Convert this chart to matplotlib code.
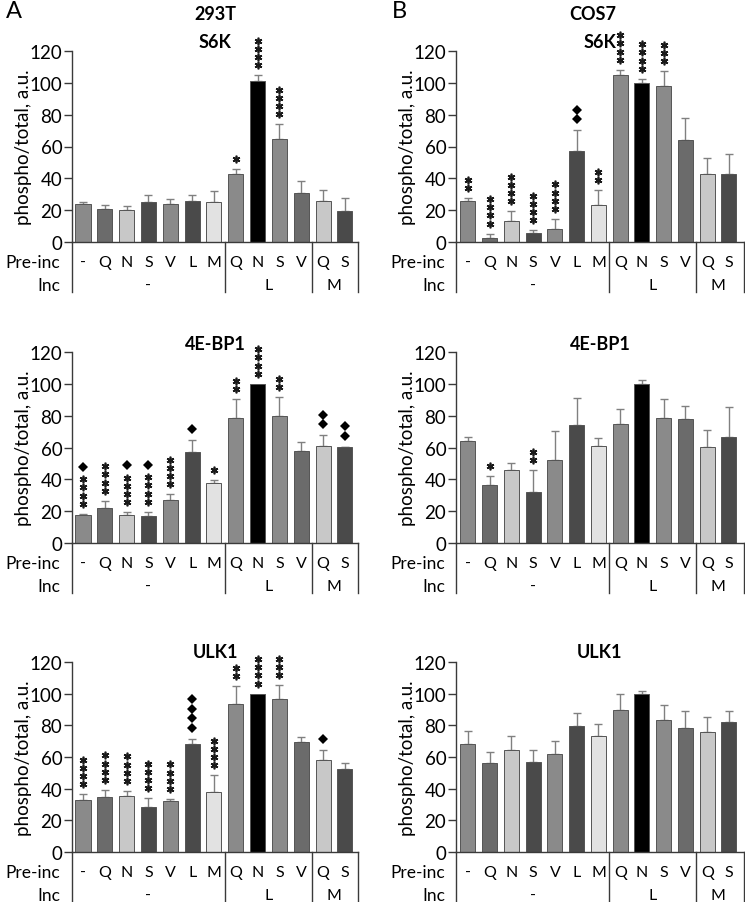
import matplotlib
matplotlib.use('Agg')
import matplotlib.pyplot as plt
import matplotlib.transforms as mtransforms
from matplotlib.lines import Line2D
import numpy as np

plt.rcParams['font.family'] = ['Lato', 'DejaVu Sans']

# ---------------- data ----------------
pre_inc = ['-', 'Q', 'N', 'S', 'V', 'L', 'M', 'Q', 'N', 'S', 'V', 'Q', 'S']
inc_labels = ['-', 'L', 'M']
inc_sizes = [7, 4, 2]
bar_colors = ['#8a8a8a', '#6b6b6b', '#c8c8c8', '#4a4a4a', '#8a8a8a', '#4a4a4a', '#e2e2e2',
              '#8a8a8a', '#000000', '#8a8a8a', '#6b6b6b', '#c8c8c8', '#4a4a4a']

# 293T
s6k_293_mean = [23.7, 20.7, 20.1, 25.1, 23.7, 26.0, 25.1, 42.9, 100.9, 64.5, 30.8, 25.8, 19.7]
s6k_293_err = [1.5, 2.3, 2.5, 4.2, 3.5, 3.7, 6.7, 3.2, 3.8, 9.4, 7.3, 6.7, 8.2]
s6k_293_stars = [0, 0, 0, 0, 0, 0, 0, 1, 4, 4, 0, 0, 0]
s6k_293_diam = [0] * 13

bp1_293_mean = [17.3, 21.9, 17.9, 17.0, 27.2, 57.3, 37.7, 78.5, 100.0, 79.8, 58.1, 60.8, 60.2]
bp1_293_err = [1.0, 4.6, 1.5, 2.6, 3.5, 7.3, 1.7, 12.0, 0.0, 11.8, 5.1, 7.0, 0.4]
bp1_293_stars = [4, 4, 4, 4, 4, 0, 1, 2, 4, 2, 0, 0, 0]
bp1_293_diam = [1, 0, 1, 1, 0, 1, 0, 0, 0, 0, 0, 2, 2]

ulk_293_mean = [32.8, 34.7, 35.6, 28.4, 32.0, 68.0, 37.9, 93.5, 100.0, 96.6, 69.7, 58.3, 52.4]
ulk_293_err = [3.6, 4.5, 2.9, 5.5, 1.5, 3.6, 10.5, 11.3, 0.0, 8.9, 2.9, 6.1, 3.8]
ulk_293_stars = [4, 4, 4, 4, 4, 0, 4, 2, 4, 3, 0, 0, 0]
ulk_293_diam = [0, 0, 0, 0, 0, 4, 0, 0, 0, 0, 0, 1, 0]

# COS7
s6k_cos_mean = [25.9, 2.5, 13.5, 5.5, 8.4, 57.0, 23.2, 105.0, 100.2, 97.7, 63.8, 42.9, 42.7]
s6k_cos_err = [1.5, 2.8, 5.7, 1.9, 6.1, 13.1, 9.6, 3.2, 2.3, 9.5, 14.3, 9.9, 12.9]
s6k_cos_stars = [2, 4, 4, 4, 4, 0, 2, 4, 4, 3, 0, 0, 0]
s6k_cos_diam = [0, 0, 0, 0, 0, 2, 0, 0, 0, 0, 0, 0, 0]

bp1_cos_mean = [64.2, 36.4, 46.1, 31.8, 52.2, 74.1, 61.0, 74.7, 100.0, 78.3, 77.7, 60.6, 66.9]
bp1_cos_err = [2.3, 5.7, 4.0, 13.9, 17.9, 16.8, 4.7, 9.7, 2.5, 12.4, 8.2, 10.1, 18.8]
bp1_cos_stars = [0, 1, 0, 2, 0, 0, 0, 0, 0, 0, 0, 0, 0]
bp1_cos_diam = [0] * 13

ulk_cos_mean = [68.4, 56.4, 64.2, 56.8, 61.9, 79.4, 73.3, 89.7, 100.0, 83.4, 78.3, 75.8, 82.3]
ulk_cos_err = [8.0, 6.5, 8.8, 7.4, 8.0, 8.4, 7.3, 10.1, 1.5, 9.2, 11.0, 9.7, 6.5]
ulk_cos_stars = [0] * 13
ulk_cos_diam = [0] * 13

yticks = [0, 20, 40, 60, 80, 100, 120]

# ---------------- figure ----------------
W, H = 745, 903
fig = plt.figure(figsize=(W / 100, H / 100), dpi=100)

LINE = '#3a3a3a'
TICK_FS = 13.5
TAB_FS = 11.5
ROWLAB_FS = 12.5
YLAB_FS = 13.5
TITLE_FS = 13


def add_ax(left, right, y0, ytop):
    return fig.add_axes([left / W, 1 - y0 / H, (right - left) / W, (y0 - ytop) / H])


def draw_panel(ax, means, errs, stars, diams, xlim, hpx, lab_dx):
    means = np.array(means)
    errs = np.array(errs)
    x = np.arange(len(pre_inc))
    ax.bar(x, means, width=0.69, color=bar_colors, edgecolor='#555555', linewidth=0.7, zorder=2)
    m = errs > 0
    ax.errorbar(x[m], means[m], yerr=[np.zeros(m.sum()), errs[m]], fmt='none',
                ecolor='#808080', elinewidth=1.0, capsize=3, capthick=1.0, zorder=1)
    ax.set_xlim(*xlim)
    ax.set_ylim(0, 120)
    ax.set_yticks(yticks)
    ax.set_xticks([])
    ax.tick_params(axis='y', length=6, width=1, color=LINE, labelsize=TICK_FS, pad=1)
    for s in ['top', 'right']:
        ax.spines[s].set_visible(False)
    for s in ['left', 'bottom']:
        ax.spines[s].set_color(LINE)
        ax.spines[s].set_linewidth(1.0)

    # significance marks
    for i in range(len(x)):
        top = means[i] + errs[i]
        off = 10
        for _ in range(stars[i]):
            tr = mtransforms.offset_copy(ax.transData, fig=fig, x=0, y=off, units='dots')
            ax.plot([x[i]], [top], marker=(6, 2, 0), ms=5.5, mew=1.2, color='#1a1a1a',
                    transform=tr, clip_on=False, zorder=3)
            off += 8.2
        if diams[i]:
            if stars[i]:
                off += 4
            else:
                off += 1
            for _ in range(diams[i]):
                tr = mtransforms.offset_copy(ax.transData, fig=fig, x=0, y=off, units='dots')
                ax.plot([x[i]], [top], marker='D', ms=5, mew=0, color='black',
                        transform=tr, clip_on=False, zorder=3)
                off += 9.5

    # table below
    trb = mtransforms.blended_transform_factory(ax.transData, ax.transAxes)
    ybot = -50 / hpx
    bounds = [xlim[0]]
    c = 0
    for n in inc_sizes:
        c += n
        bounds.append(c - 0.5)
    bounds[-1] = xlim[1]
    for b in bounds:
        ax.add_line(Line2D([b, b], [0, ybot], transform=trb, color=LINE, lw=1.0, clip_on=False))
    for i, lab in enumerate(pre_inc):
        ax.annotate(lab, xy=(x[i], 0), xycoords='data', xytext=(0, -20 * 0.72),
                    textcoords='offset points', ha='center', va='center', fontsize=TAB_FS)
    c = 0
    for lab, n in zip(inc_labels, inc_sizes):
        ax.annotate(lab, xy=(c + (n - 1) / 2, 0), xycoords='data', xytext=(0, -43 * 0.72),
                    textcoords='offset points', ha='center', va='center', fontsize=TAB_FS)
        c += n
    ax.annotate('Pre-inc', xy=(0, 0), xycoords='axes fraction', xytext=(lab_dx * 0.72, -20 * 0.72),
                textcoords='offset points', ha='right', va='center', fontsize=ROWLAB_FS)
    ax.annotate('Inc', xy=(0, 0), xycoords='axes fraction', xytext=(lab_dx * 0.72, -43 * 0.72),
                textcoords='offset points', ha='right', va='center', fontsize=ROWLAB_FS)


rows = [(243, 52), (544, 353), (853, 663)]
colA = (72, 358, (-0.504, 12.6), -12)
colB = (456, 744, (-0.55, 12.69), -11)

panels_A = [(s6k_293_mean, s6k_293_err, s6k_293_stars, s6k_293_diam, 'S6K'),
            (bp1_293_mean, bp1_293_err, bp1_293_stars, bp1_293_diam, '4E-BP1'),
            (ulk_293_mean, ulk_293_err, ulk_293_stars, ulk_293_diam, 'ULK1')]
panels_B = [(s6k_cos_mean, s6k_cos_err, s6k_cos_stars, s6k_cos_diam, 'S6K'),
            (bp1_cos_mean, bp1_cos_err, bp1_cos_stars, bp1_cos_diam, '4E-BP1'),
            (ulk_cos_mean, ulk_cos_err, ulk_cos_stars, ulk_cos_diam, 'ULK1')]

title_y = [43, 345, 653]
for col, panels, ylab_x in [(colA, panels_A, 24), (colB, panels_B, 407)]:
    left, right, xlim, dx = col
    for (y0, yt), (mn, er, st, di, ttl), ty in zip(rows, panels, title_y):
        ax = add_ax(left, right, y0, yt)
        draw_panel(ax, mn, er, st, di, xlim, y0 - yt, dx)
        fig.text((left + right) / 2 / W, 1 - ty / H, ttl, ha='center', va='center',
                 fontsize=TITLE_FS, fontweight='bold')
        fig.text(ylab_x / W, 1 - (y0 + yt) / 2 / H, 'phospho/total, a.u.', rotation=90,
                 ha='center', va='center', fontsize=YLAB_FS)

fig.text(215 / W, 1 - 15 / H, '293T', ha='center', va='center', fontsize=TITLE_FS, fontweight='bold')
fig.text(593 / W, 1 - 15 / H, 'COS7', ha='center', va='center', fontsize=TITLE_FS, fontweight='bold')
fig.text(14 / W, 1 - 12 / H, 'A', ha='center', va='center', fontsize=17)
fig.text(399 / W, 1 - 12 / H, 'B', ha='center', va='center', fontsize=17)

fig.savefig('out.png', dpi=100)
